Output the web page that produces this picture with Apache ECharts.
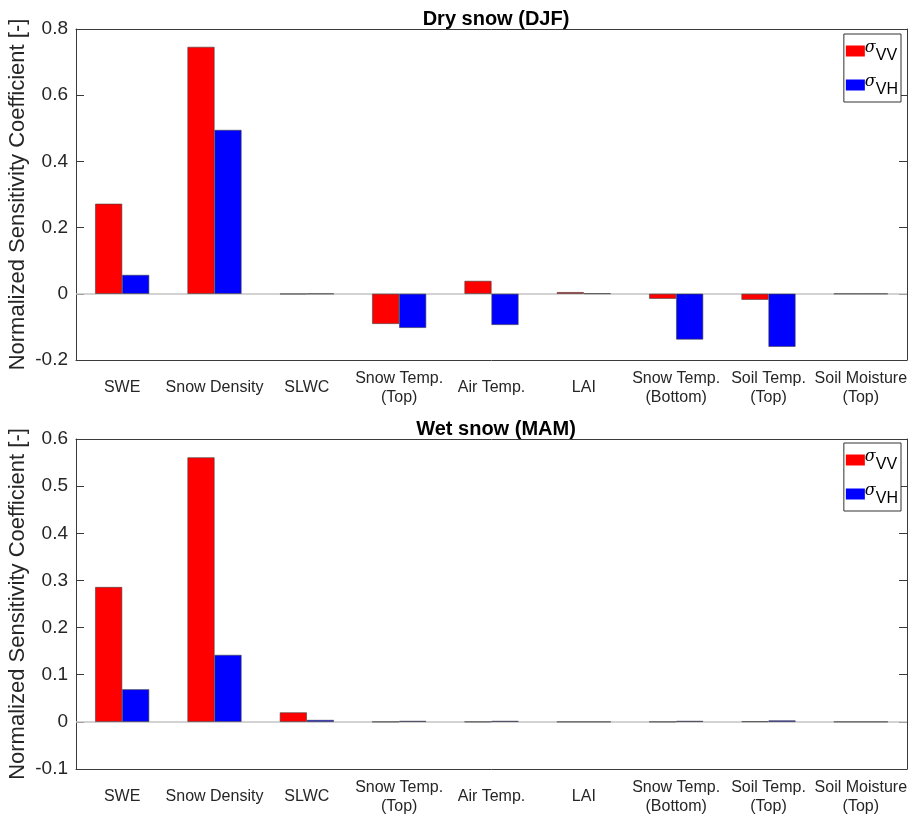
<!DOCTYPE html>
<html>
<head>
<meta charset="utf-8">
<script src="https://cdn.jsdelivr.net/npm/echarts@6/dist/echarts.min.js"></script>
<style>
  html, body { margin: 0; padding: 0; background: #fff; }
  #chart { width: 911px; height: 816px; }
</style>
</head>
<body>
<div id="chart"></div>
<script>
// Sensitivity parameters on the x axis
const categories = [
  'SWE', 'Snow Density', 'SLWC', 'Snow Temp.\n(Top)', 'Air Temp.', 'LAI',
  'Snow Temp.\n(Bottom)', 'Soil Temp.\n(Top)', 'Soil Moisture\n(Top)'
];

// Polarisation channels (drawn as sigma with subscript)
const seriesNames = ['VV', 'VH'];

// Dry snow (DJF)
const dryVV = [0.272, 0.746, -0.001, -0.091, 0.039, 0.005, -0.015, -0.018, 0.000];
const dryVH = [0.057, 0.495, 0.000, -0.103, -0.094, 0.001, -0.138, -0.160, 0.000];

// Wet snow (MAM)
const wetVV = [0.286, 0.561, 0.020, 0.000, 0.000, 0.000, 0.000, 0.001, 0.000];
const wetVH = [0.069, 0.142, 0.004, 0.002, 0.002, 0.000, 0.002, 0.003, 0.000];

const panelTitles = ['Dry snow (DJF)', 'Wet snow (MAM)'];
const yLabel = 'Normalized Sensitivity Coefficient [-]';

const FONT = '"Liberation Sans", Arial, Helvetica, sans-serif';
const AXIS = '#3a3a3a';
const TXT = '#262626';

const grids = [
  { left: 76, right: 4, top: 29, height: 331, outerBoundsMode: 'none' },
  { left: 76, right: 4, top: 439, height: 330, outerBoundsMode: 'none' }
];
const yRanges = [
  { min: -0.2, max: 0.8, interval: 0.2 },
  { min: -0.1, max: 0.6, interval: 0.1 }
];

const xAxes = [];
const yAxes = [];
grids.forEach((g, i) => {
  // bottom category axis with labels
  xAxes.push({
    type: 'category', gridIndex: i, data: categories, position: 'bottom',
    axisLine: { onZero: false, lineStyle: { color: AXIS, width: 1 } },
    axisTick: { inside: true, alignWithLabel: true, length: 8, lineStyle: { color: AXIS } },
    axisLabel: {
      color: TXT, fontFamily: FONT, fontSize: 16, lineHeight: 19,
      verticalAlign: 'middle', margin: 28, interval: 0
    }
  });
  // mirrored top axis (box)
  xAxes.push({
    type: 'category', gridIndex: i, data: categories, position: 'top',
    axisLine: { onZero: false, lineStyle: { color: AXIS, width: 1 } },
    axisTick: { inside: true, alignWithLabel: true, length: 8, lineStyle: { color: AXIS } },
    axisLabel: { show: false }
  });
  yAxes.push({
    type: 'value', gridIndex: i, position: 'left',
    min: yRanges[i].min, max: yRanges[i].max, interval: yRanges[i].interval,
    name: yLabel, nameLocation: 'middle', nameGap: 47, nameRotate: 90,
    nameMoveOverlap: false,
    nameTextStyle: { color: TXT, fontFamily: FONT, fontSize: 22 },
    axisLine: { show: true, onZero: false, lineStyle: { color: AXIS, width: 1 } },
    axisTick: { show: true, inside: true, length: 8, lineStyle: { color: AXIS } },
    axisLabel: { color: TXT, fontFamily: FONT, fontSize: 19, margin: 8 },
    splitLine: { show: false }
  });
  yAxes.push({
    type: 'value', gridIndex: i, position: 'right',
    min: yRanges[i].min, max: yRanges[i].max, interval: yRanges[i].interval,
    axisLine: { show: true, onZero: false, lineStyle: { color: AXIS, width: 1 } },
    axisTick: { show: true, inside: true, length: 8, lineStyle: { color: AXIS } },
    axisLabel: { show: false },
    splitLine: { show: false }
  });
});

const panelData = [[dryVV, dryVH], [wetVV, wetVH]];
const colors = ['#ff0000', '#0000ff'];

const series = [];
panelData.forEach((pair, i) => {
  pair.forEach((vals, k) => {
    const s = {
      type: 'bar', name: seriesNames[k],
      xAxisIndex: i * 2, yAxisIndex: i * 2,
      data: vals, barWidth: 27, barGap: '0%',
      itemStyle: { color: colors[k], borderColor: '#404040', borderWidth: 0.6 },
      emphasis: { disabled: true },
      z: 3
    };
    if (k === 0) {
      // bar baseline at zero
      s.markLine = {
        silent: true, symbol: 'none', label: { show: false },
        lineStyle: { color: '#c4c4c4', width: 1.6, type: 'solid' },
        data: [{ yAxis: 0 }], z: 1
      };
    }
    series.push(s);
  });
});

const legendRich = {
  s: { fontFamily: '"DejaVu Serif", serif', fontStyle: 'italic', fontSize: 16, color: '#000', padding: [0, 0, 6, 0] },
  sub: { fontFamily: FONT, fontSize: 16, color: '#000', padding: [10, 0, 0, 0] }
};
const legends = [34, 443].map(top => ({
  data: seriesNames.map(n => ({ name: n, icon: 'rect' })),
  orient: 'vertical', right: 10, top: top,
  itemWidth: 19, itemHeight: 11, itemGap: 10,
  padding: [6, 3, 4, 2],
  borderColor: '#333', borderWidth: 1, backgroundColor: '#fff',
  selectedMode: false,
  itemStyle: { borderWidth: 0 },
  formatter: name => '{s|σ}{sub|' + name + '}',
  textStyle: { rich: legendRich, padding: [0, 0, 0, -5] }
}));

const option = {
  animation: false,
  backgroundColor: '#fff',
  title: panelTitles.map((t, i) => ({
    text: t, left: 491, textAlign: 'center', top: i === 0 ? 4 : 414,
    textStyle: { fontFamily: FONT, fontWeight: 'bold', fontSize: 20, color: '#000' }
  })),
  legend: legends,
  grid: grids,
  xAxis: xAxes,
  yAxis: yAxes,
  series: series
};

const chart = echarts.init(document.getElementById('chart'), null, { renderer: 'canvas' });
chart.setOption(option);
</script>
</body>
</html>
